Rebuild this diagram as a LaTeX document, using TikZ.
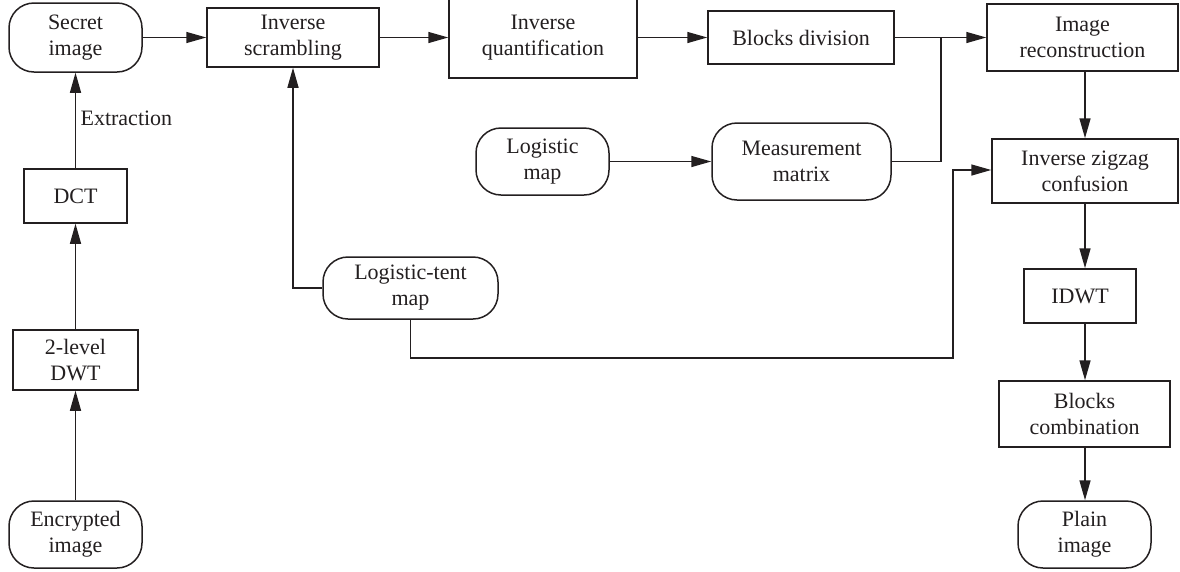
\documentclass[tikz,border=0pt]{standalone}
\usepackage{fontspec}
\setmainfont{Liberation Serif}
\usetikzlibrary{arrows.meta}
\definecolor{ink}{HTML}{231F20}
\begin{document}
\begin{tikzpicture}[x=1pt,y=-1pt,
  every node/.style={font=\fontsize{22}{26}\selectfont, text=ink},
  box/.style={draw=ink, line width=1.5pt, rectangle, align=center, inner sep=0pt},
  rbox/.style={box, rounded corners=25pt},
  conn/.style={draw=ink, line width=1.5pt},
  arr/.style={conn, -{Triangle[length=20pt,width=11pt]}}
]
\useasboundingbox (0,0) rectangle (1180,571);
% nodes
\node[rbox, minimum width=133pt, minimum height=69pt] (secret) at (75.5,37.5) {Secret\\image};
\node[box, minimum width=172pt, minimum height=59pt] (iscr) at (293,37.5) {Inverse\\scrambling};
\node[box, minimum width=188pt, minimum height=80pt] (iquant) at (543,38) {Inverse\\quantification};
\node[box, minimum width=186pt, minimum height=53pt] (bdiv) at (801,37.5) {Blocks division};
\node[box, minimum width=191pt, minimum height=67pt] (irec) at (1082.5,37.5) {Image\\reconstruction};
\node[rbox, minimum width=133pt, minimum height=67pt] (logmap) at (542.5,161.5) {Logistic\\map};
\node[rbox, minimum width=179pt, minimum height=77pt] (mmat) at (801.5,161.5) {Measurement\\matrix};
\node[box, minimum width=186pt, minimum height=64pt] (zig) at (1085,171) {Inverse zigzag\\confusion};
\node[rbox, minimum width=175pt, minimum height=62pt] (ltent) at (410.5,288) {Logistic-tent\\map};
\node[box, minimum width=112pt, minimum height=54pt] (idwt) at (1080,296) {IDWT};
\node[box, minimum width=171pt, minimum height=66pt] (bcomb) at (1084.5,414) {Blocks\\combination};
\node[rbox, minimum width=133pt, minimum height=67pt] (plain) at (1084.5,534.5) {Plain\\image};
\node[box, minimum width=103pt, minimum height=54pt] (dct) at (75.5,196) {DCT};
\node[box, minimum width=125pt, minimum height=60pt] (dwt) at (75.5,360) {2-level\\DWT};
\node[rbox, minimum width=133pt, minimum height=67pt] (enc) at (75.5,534.5) {Encrypted\\image};
\coordinate (j1) at (941,37.5);
\coordinate (j2) at (953,358);
% connectors
\draw[arr] (enc.north) -- (dwt.south);
\draw[arr] (dwt.north) -- (dct.south);
\draw[arr] (dct.north) -- node[right, xshift=1pt, yshift=2pt] (ext) {Extraction} (secret.south);
\draw[arr] (secret.east) -- (iscr.west);
\draw[arr] (iscr.east) -- (iscr.east -| iquant.west);
\draw[arr] (iquant.east |- bdiv.west) -- (bdiv.west);
\draw[arr] (bdiv.east) -- (irec.west);
\draw[conn] (mmat.east) -| (j1);
\draw[arr] (logmap.east) -- (mmat.west);
\draw[arr] (irec.south -| zig.north) -- (zig.north);
\draw[arr] (zig.south) -- (zig.south |- idwt.north);
\draw[arr] (zig.south |- idwt.south) -- (zig.south |- bcomb.north);
\draw[arr] (zig.south |- bcomb.south) -- (zig.south |- plain.north);
\draw[arr] (ltent.west) -| (iscr.south);
\draw[arr] (ltent.south) |- (j2) |- ([yshift=1pt]zig.west);
\end{tikzpicture}
\end{document}
